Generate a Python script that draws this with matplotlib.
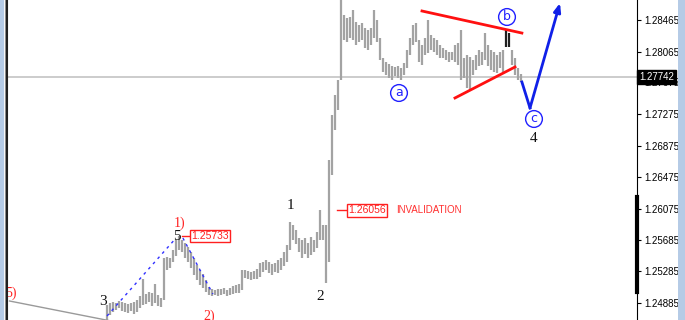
import matplotlib
matplotlib.use("Agg")
import matplotlib.pyplot as plt
from matplotlib.lines import Line2D
from matplotlib.patches import Rectangle

# price bars (high / low), one per bar, oldest first
highs = [
    1.24857, 1.24882, 1.24895, 1.24882, 1.24908, 1.24895, 1.24882, 1.24870, 1.24882, 1.24895,
    1.24921, 1.24971, 1.25186, 1.24996, 1.25022, 1.25009, 1.25123, 1.24984, 1.24946, 1.25452,
    1.25465, 1.25452, 1.25553, 1.25680, 1.25733, 1.25680, 1.25642, 1.25592, 1.25528, 1.25452,
    1.25364, 1.25301, 1.25250, 1.25174, 1.25085, 1.25060, 1.25047, 1.25060, 1.25060, 1.25072,
    1.25047, 1.25072, 1.25098, 1.25110, 1.25123, 1.25301, 1.25301, 1.25288, 1.25275, 1.25288,
    1.25313, 1.25389, 1.25402, 1.25427, 1.25402, 1.25376, 1.25389, 1.25427, 1.25452, 1.25528,
    1.25617, 1.25908, 1.25870, 1.25807, 1.25705, 1.25680, 1.25705, 1.25642, 1.25718, 1.25680,
    1.25781, 1.26056, 1.25870, 1.25870, 1.26693, 1.27262, 1.27516, 1.27705, 1.28781, 1.28528,
    1.28490, 1.28503, 1.28591, 1.28440, 1.28402, 1.28427, 1.28364, 1.28338, 1.28364, 1.28591,
    1.28465, 1.28237, 1.27984, 1.27934, 1.27908, 1.27883, 1.27870, 1.27883, 1.27857, 1.27921,
    1.28085, 1.28237, 1.28402, 1.28427, 1.28212, 1.28148, 1.28237, 1.28465, 1.28275, 1.28237,
    1.28212, 1.28148, 1.28110, 1.28085, 1.28060, 1.28060, 1.28148, 1.28174, 1.28338, 1.27984,
    1.28022, 1.27997, 1.27959, 1.28022, 1.28085, 1.28060, 1.28300, 1.28148, 1.28085, 1.28060,
    1.28022, 1.28060, 1.28085, 1.28338, 1.28300, 1.28085, 1.27984, 1.27857, 1.27781,
]
lows = [
    1.24650, 1.24731, 1.24768, 1.24794, 1.24819, 1.24781, 1.24768, 1.24756, 1.24781, 1.24743,
    1.24768, 1.24819, 1.24857, 1.24870, 1.24895, 1.24844, 1.24882, 1.24844, 1.24832, 1.24921,
    1.25301, 1.25326, 1.25402, 1.25478, 1.25553, 1.25528, 1.25452, 1.25402, 1.25326, 1.25237,
    1.25174, 1.25110, 1.25072, 1.25022, 1.24984, 1.24971, 1.24984, 1.24971, 1.24984, 1.24996,
    1.24971, 1.24984, 1.24996, 1.25009, 1.25009, 1.25047, 1.25199, 1.25186, 1.25174, 1.25186,
    1.25186, 1.25212, 1.25275, 1.25301, 1.25262, 1.25237, 1.25275, 1.25262, 1.25301, 1.25351,
    1.25402, 1.25553, 1.25680, 1.25630, 1.25528, 1.25452, 1.25503, 1.25452, 1.25490, 1.25528,
    1.25579, 1.25680, 1.25680, 1.25136, 1.25402, 1.26503, 1.27072, 1.27326, 1.27705, 1.28212,
    1.28186, 1.28237, 1.28212, 1.28148, 1.28186, 1.28212, 1.28110, 1.28085, 1.28148, 1.28237,
    1.28186, 1.27959, 1.27807, 1.27769, 1.27731, 1.27705, 1.27756, 1.27731, 1.27705, 1.27769,
    1.27857, 1.28022, 1.28148, 1.28186, 1.27934, 1.27895, 1.28022, 1.28047, 1.28085, 1.28060,
    1.28022, 1.27984, 1.27984, 1.27959, 1.27934, 1.27959, 1.27934, 1.27895, 1.27705, 1.27731,
    1.27604, 1.27579, 1.27769, 1.27832, 1.27883, 1.27895, 1.27959, 1.27883, 1.27832, 1.27807,
    1.27794, 1.27857, 1.27807, 1.28123, 1.28123, 1.27895, 1.27769, 1.27705, 1.27680,
]
dark_bars = [133, 134]

price_ticks = [1.28465, 1.28065, 1.27675, 1.27275, 1.26875,
               1.26475, 1.26075, 1.25685, 1.25285, 1.24885]
last_price = 1.27742
invalidation = 1.26056
wave1_high = 1.25733

# drawn objects (bar index, price)
upper_tl_x, upper_tl_y = [105, 138.3], [1.28579, 1.28300]
lower_tl_x, lower_tl_y = [116, 136], [1.27478, 1.27870]
proj_x, proj_y = [138.3, 141, 151], [1.27680, 1.27351, 1.28680]
dots1_x, dots1_y = [0, 23], [1.24718, 1.25705]
dots2_x, dots2_y = [25.3, 35.3], [1.25705, 1.24996]
old_tl_x, old_tl_y = [-32.5, 2], [1.24908, 1.24650]
marker_bar_y = [1.26225, 1.25022]


def at(x_px, y_px):
    """pixel position of the 685x320 image -> (bar index, price)"""
    return (x_px - 107) / 3, 1.287182 - y_px * 0.00012658


fig = plt.figure(figsize=(6.85, 3.2), dpi=100)
ax = fig.add_axes([8 / 685, 0, 629 / 685, 1])
ax.set_xlim(-33, 176.67)
ax.set_ylim(1.246675, 1.287182)

idx = list(range(len(highs)))
cols = ["#202020" if i in dark_bars else "#a3a3a3" for i in idx]
ax.vlines(idx, lows, highs, colors=cols, lw=1.6)

ax.axhline(last_price, color="#c4c4c4", lw=1.2, zorder=0)

ax.plot(old_tl_x, old_tl_y, color="#9a9a9a", lw=1)
ax.plot(dots1_x, dots1_y, color="#3030ff", lw=1, ls=(0, (2, 3)))
ax.plot(dots2_x, dots2_y, color="#3030ff", lw=1, ls=(0, (2, 3)))
ax.plot(upper_tl_x, upper_tl_y, color="#ff1010", lw=2)
ax.plot(lower_tl_x, lower_tl_y, color="#ff1010", lw=2)
ax.plot(proj_x[:2], proj_y[:2], color="#1020e8", lw=2)
ax.annotate("", xy=(proj_x[2], proj_y[2]), xytext=(proj_x[1], proj_y[1]),
            arrowprops=dict(arrowstyle="-|>,head_length=0.5,head_width=0.2",
                            color="#1020e8", lw=2, shrinkA=0, shrinkB=0))

serif = "Liberation Serif"
sans = "Liberation Sans"
for txt, pos in (("1", (290, 206)), ("2", (320, 297)), ("3", (103, 302)),
                 ("5", (177, 237)), ("4", (534, 139)), ("1", (148, 327))):
    ax.text(*at(*pos), txt, family=serif, fontsize=11, ha="center", va="center",
            color="#111111")
for txt, pos in (("1)", (180, 223)), ("2)", (209, 316)), ("5)", (11, 293))):
    ax.text(*at(*pos), txt, family=serif, fontsize=10, ha="center", va="center",
            color="#ff2020")

for label, price, x0, xb in ((f"{wave1_high:.5f}", wave1_high, 182, 190),
                             (f"{invalidation:.5f}", invalidation, 337, 347)):
    xa, _ = at(x0, 0)
    xc, _ = at(xb, 0)
    ax.plot([xa, xc], [price, price], color="#ff2020", lw=1)
    ax.text(xc + 0.3, price, label, family=sans, fontsize=7.5, color="#ff2020",
            va="center", ha="left",
            bbox=dict(boxstyle="square,pad=0.12", fc="white", ec="#ff2020", lw=1))
ax.text(at(396, 0)[0], invalidation, "INVALIDATION", family=sans, fontsize=7,
        color="#ff3030", va="center", ha="left")

for letter, pos in (("a", (399, 93)), ("b", (507, 17)), ("c", (534, 119))):
    ax.text(*at(*pos), letter, family="DejaVu Sans", fontsize=9, color="#2020ff",
            ha="center", va="center",
            bbox=dict(boxstyle="circle,pad=0.15", fc="white", ec="#2020ff", lw=1))

# right price scale
for s in ("left", "top", "bottom"):
    ax.spines[s].set_visible(False)
ax.spines["right"].set_color("black")
ax.set_xticks([])
ax.yaxis.tick_right()
ax.set_yticks(price_ticks)
ax.set_yticklabels([f"{t:.5f}" for t in price_ticks], family=sans, fontsize=7)
ax.tick_params(axis="y", direction="out", length=3, width=0.8, pad=2)
ax.plot([1.0, 1.0], marker_bar_y, color="black", lw=3, clip_on=False,
        transform=ax.get_yaxis_transform())
ax.text(1.003, last_price, f"{last_price:.5f}", transform=ax.get_yaxis_transform(),
        family=sans, fontsize=7, color="white", va="center", ha="left", zorder=10,
        bbox=dict(boxstyle="square,pad=0.2", fc="black", ec="black"))

# window frame
fig.patches.append(Rectangle((0, 0), 4 / 685, 1, transform=fig.transFigure,
                             fc="#b5cbe6", ec="none"))
fig.patches.append(Rectangle((678 / 685, 0), 7 / 685, 1, transform=fig.transFigure,
                             fc="#b5cbe6", ec="none"))
fig.lines.append(Line2D([5 / 685, 5 / 685], [0, 1], transform=fig.transFigure,
                        color="#909090", lw=0.8))
fig.lines.append(Line2D([7 / 685, 7 / 685], [0, 1], transform=fig.transFigure,
                        color="#202020", lw=1.5))

fig.savefig("out.png", dpi=100)
